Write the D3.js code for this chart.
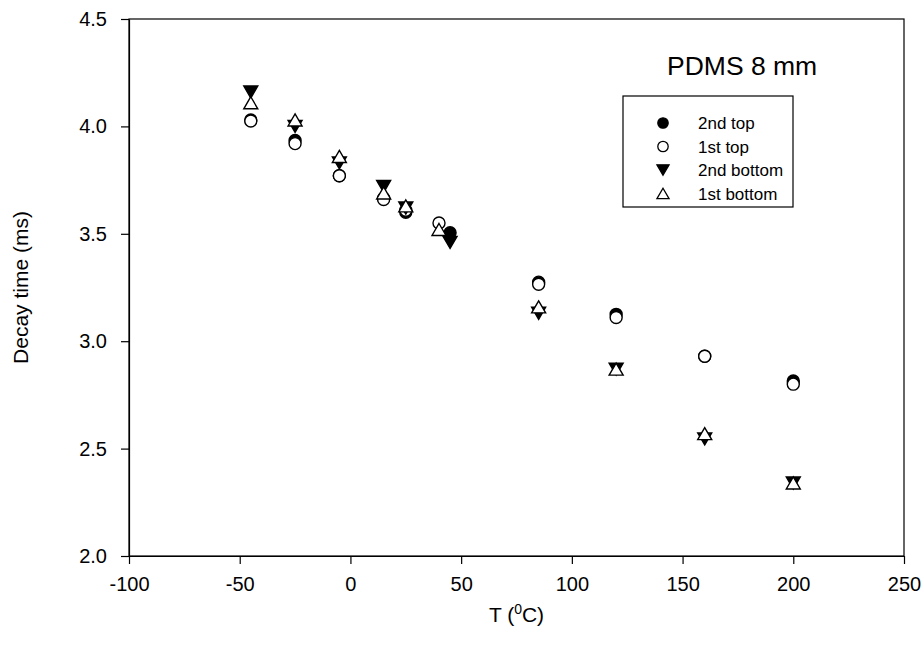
<!DOCTYPE html>
<html>
<head>
<meta charset="utf-8">
<script src="https://cdn.jsdelivr.net/npm/d3@7"></script>
<style>
  body { margin: 0; background: #fff; }
  svg { font-family: Arial, "Liberation Sans", sans-serif; }
</style>
</head>
<body>
<svg id="chart"></svg>
<script>
// temperatures (C)
var temps2nd = [-45, -25, -5, 15, 25, 45, 85, 120, 160, 200];
var temps1st = [-45, -25, -5, 15, 25, 40, 85, 120, 160, 200];

// decay time (ms)
var top2nd    = [4.03, 3.935, 3.77, 3.665, 3.60, 3.505, 3.275, 3.125, 2.93, 2.815];
var top1st    = [4.025, 3.92, 3.77, 3.66, 3.61, 3.55, 3.265, 3.11, 2.93, 2.80];
var bottom2nd = [4.16, 4.00, 3.83, 3.72, 3.62, 3.46, 3.13, 2.87, 2.545, 2.34];
var bottom1st = [4.11, 4.03, 3.86, 3.69, 3.63, 3.52, 3.16, 2.87, 2.57, 2.34];

var xTicks = [-100, -50, 0, 50, 100, 150, 200, 250];
var yTicks = [2.0, 2.5, 3.0, 3.5, 4.0, 4.5];

var seriesNames = ["2nd top", "1st top", "2nd bottom", "1st bottom"];

var margin = {top: 19, right: 19, bottom: 93, left: 129},
    W = 923, H = 649,
    width = W - margin.left - margin.right,
    height = H - margin.top - margin.bottom;

var svg = d3.select("#chart")
    .attr("width", W)
    .attr("height", H);

var g = svg.append("g")
    .attr("transform", "translate(" + margin.left + "," + margin.top + ")");

var x = d3.scaleLinear().domain([-100, 250]).range([0, width]);
var y = d3.scaleLinear().domain([2.0, 4.5]).range([height, 0]);

// triangle symbols with centred bounding box
var triUp = {
  draw: function(ctx, size) {
    var w = Math.sqrt(size) * 1.5, h = w * 0.86;
    ctx.moveTo(0, -h / 2);
    ctx.lineTo(w / 2, h / 2);
    ctx.lineTo(-w / 2, h / 2);
    ctx.closePath();
  }
};
var triDown = {
  draw: function(ctx, size) {
    var w = Math.sqrt(size) * 1.5, h = w * 0.86;
    ctx.moveTo(0, h / 2);
    ctx.lineTo(w / 2, -h / 2);
    ctx.lineTo(-w / 2, -h / 2);
    ctx.closePath();
  }
};

var styles = [
  {type: d3.symbolCircle, fill: "#000", size: 113},
  {type: d3.symbolCircle, fill: "#fff", size: 113},
  {type: triDown, fill: "#000", size: 87},
  {type: triUp, fill: "#fff", size: 87}
];

var series = [
  {t: temps2nd, v: top2nd},
  {t: temps1st, v: top1st},
  {t: temps2nd, v: bottom2nd},
  {t: temps1st, v: bottom1st}
];

// frame
g.append("rect")
  .attr("width", width)
  .attr("height", height)
  .attr("fill", "none")
  .attr("stroke", "#000")
  .attr("stroke-width", 1.2);

var xAxis = g.append("g")
  .attr("transform", "translate(0," + height + ")")
  .call(d3.axisBottom(x).tickValues(xTicks).tickSize(8).tickSizeOuter(0).tickPadding(13)
    .tickFormat(function(d) { return String(d); }));

var yAxis = g.append("g")
  .call(d3.axisLeft(y).tickValues(yTicks).tickSize(8).tickSizeOuter(0).tickPadding(14)
    .tickFormat(d3.format(".1f")));

[xAxis, yAxis].forEach(function(a) {
  a.attr("font-family", null).attr("font-size", null);
  a.select(".domain").attr("stroke-width", 1.2);
  a.selectAll(".tick line").attr("stroke-width", 1.2);
  a.selectAll(".tick text").style("font-size", "20px").attr("fill", "#000");
});

// points
series.forEach(function(s, i) {
  var st = styles[i];
  var sym = d3.symbol().type(st.type).size(st.size);
  g.append("g").selectAll("path")
    .data(s.v)
    .enter().append("path")
    .attr("d", sym)
    .attr("transform", function(d, j) { return "translate(" + x(s.t[j]) + "," + y(d) + ")"; })
    .attr("fill", st.fill)
    .attr("stroke", "#000")
    .attr("stroke-width", 1.4);
});

// legend
var legend = svg.append("g").attr("transform", "translate(623,96)");
legend.append("rect")
  .attr("width", 170)
  .attr("height", 111)
  .attr("fill", "#fff")
  .attr("stroke", "#000")
  .attr("stroke-width", 1.2);

seriesNames.forEach(function(name, i) {
  var st = styles[i];
  var row = legend.append("g").attr("transform", "translate(40," + (27 + i * 23.5) + ")");
  row.append("path")
    .attr("d", d3.symbol().type(st.type).size(st.size * 0.75))
    .attr("fill", st.fill)
    .attr("stroke", "#000")
    .attr("stroke-width", 1.3);
  row.append("text")
    .attr("x", 35)
    .attr("y", 6)
    .attr("font-size", "17px")
    .text(name);
});

// title inside plot
svg.append("text")
  .attr("x", 667)
  .attr("y", 75)
  .attr("font-size", "26.5px")
  .text("PDMS 8 mm");

// axis titles
svg.append("text")
  .attr("transform", "translate(28," + (margin.top + height / 2) + ") rotate(-90)")
  .attr("text-anchor", "middle")
  .attr("font-size", "21px")
  .text("Decay time (ms)");

var xl = svg.append("text")
  .attr("x", margin.left + width / 2)
  .attr("y", 622)
  .attr("text-anchor", "middle")
  .attr("font-size", "21px");
xl.append("tspan").text("T (");
xl.append("tspan").attr("dy", -8).attr("font-size", "14px").text("0");
xl.append("tspan").attr("dy", 8).text("C)");
</script>
</body>
</html>
